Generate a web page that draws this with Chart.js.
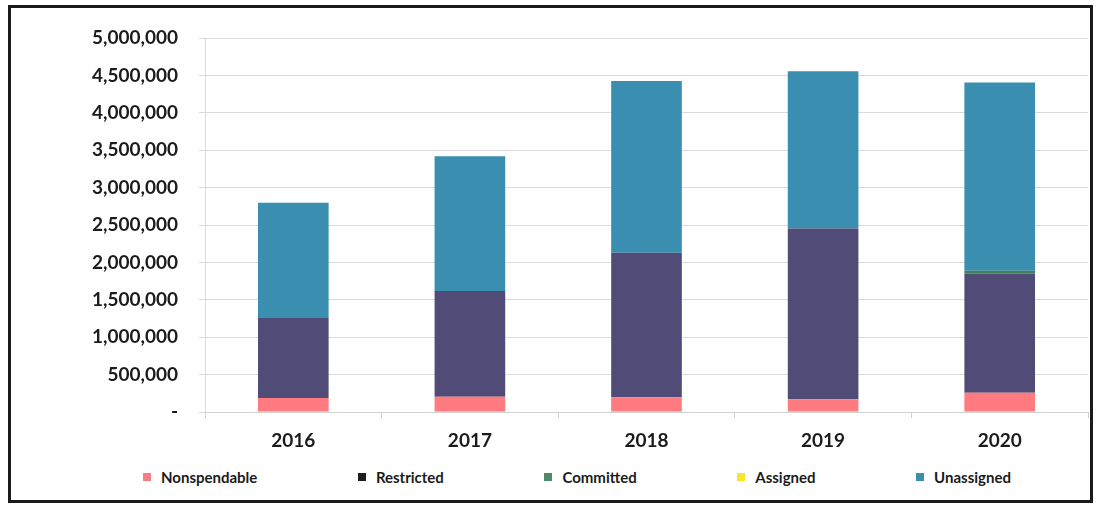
<!DOCTYPE html>
<html>
<head>
<meta charset="utf-8">
<title>Fund Balance</title>
<script src="https://cdn.jsdelivr.net/npm/chart.js@4"></script>
<style>
  body { margin: 0; background: #fff; }
  #frame {
    position: absolute; left: 8px; top: 5px; width: 1085px; height: 498px;
    border: 3px solid #1b1b1b; box-sizing: border-box;
  }
  #chartBox { position: absolute; left: 0; top: 0; width: 1120px; height: 462px; }
  #legend {
    position: absolute; left: 143px; top: 468px; width: 868px;
    display: flex; justify-content: space-between;
    font: bold 15px Lato, sans-serif; color: #1b1b1b; line-height: 18px;
  }
  #legend .item { display: flex; align-items: center; white-space: nowrap; }
  #legend .box { display: inline-block; width: 8px; height: 8px; margin-right: 10px; }
</style>
</head>
<body>
<div id="frame"></div>
<div id="chartBox"><canvas id="fundChart"></canvas></div>
<div id="legend"></div>

<script>
const years = ['2016', '2017', '2018', '2019', '2020'];

const nonspendable = [187000, 204000, 196000, 170000, 258000];
const restricted   = [1069000, 1413000, 1932000, 2284000, 1595000];
const committed    = [0, 0, 0, 0, 35000];
const assigned     = [0, 0, 0, 0, 0];
const unassigned   = [1540000, 1803000, 2298000, 2102000, 2517000];

const seriesNames  = ['Nonspendable', 'Restricted', 'Committed', 'Assigned', 'Unassigned'];
const barColors    = ['#ff7b7f', '#514c77', '#3f7f5c', '#ffff00', '#3a8fb0'];
const legendColors = ['#f47d86', '#1e1e1e', '#4f8a69', '#f7e62c', '#3f8ea8'];

const yMax = 5000000;
const yStep = 500000;

const seriesData = [nonspendable, restricted, committed, assigned, unassigned];

const tickFont = { family: 'Lato', size: 19, weight: 'bold' };

const ctx = document.getElementById('fundChart').getContext('2d');
const fundChart = new Chart(ctx, {
    type: 'bar',
    data: {
        labels: years,
        datasets: seriesNames.map((name, i) => ({
            label: name,
            data: seriesData[i],
            backgroundColor: barColors[i],
            borderWidth: 0,
            barPercentage: 1,
            categoryPercentage: 0.4
        }))
    },
    options: {
        responsive: true,
        maintainAspectRatio: false,
        animation: false,
        layout: {
            padding: { top: 38, right: 32, bottom: 0, left: 0 }
        },
        plugins: {
            legend: { display: false },
            tooltip: { enabled: false }
        },
        scales: {
            x: {
                stacked: true,
                grid: {
                    drawOnChartArea: false,
                    drawTicks: true,
                    tickLength: 6,
                    color: '#d0d0d0'
                },
                border: { color: '#d0d0d0' },
                ticks: {
                    color: '#1b1b1b',
                    font: tickFont,
                    padding: 11
                },
                afterFit: scale => { scale.height = 50; }
            },
            y: {
                stacked: true,
                min: 0,
                max: yMax,
                grid: {
                    color: '#dadada',
                    tickLength: 6
                },
                border: { color: '#dadada' },
                ticks: {
                    stepSize: yStep,
                    color: '#1b1b1b',
                    font: tickFont,
                    padding: 21,
                    callback: v => v === 0 ? '-' : v.toLocaleString('en-US')
                },
                afterFit: scale => { scale.width = 205; }
            }
        }
    }
});

// legend row under the chart
const legendEl = document.getElementById('legend');
seriesNames.forEach((name, i) => {
    const item = document.createElement('div');
    item.className = 'item';
    const box = document.createElement('span');
    box.className = 'box';
    box.style.backgroundColor = legendColors[i];
    item.appendChild(box);
    item.appendChild(document.createTextNode(name));
    legendEl.appendChild(item);
});
</script>
</body>
</html>
